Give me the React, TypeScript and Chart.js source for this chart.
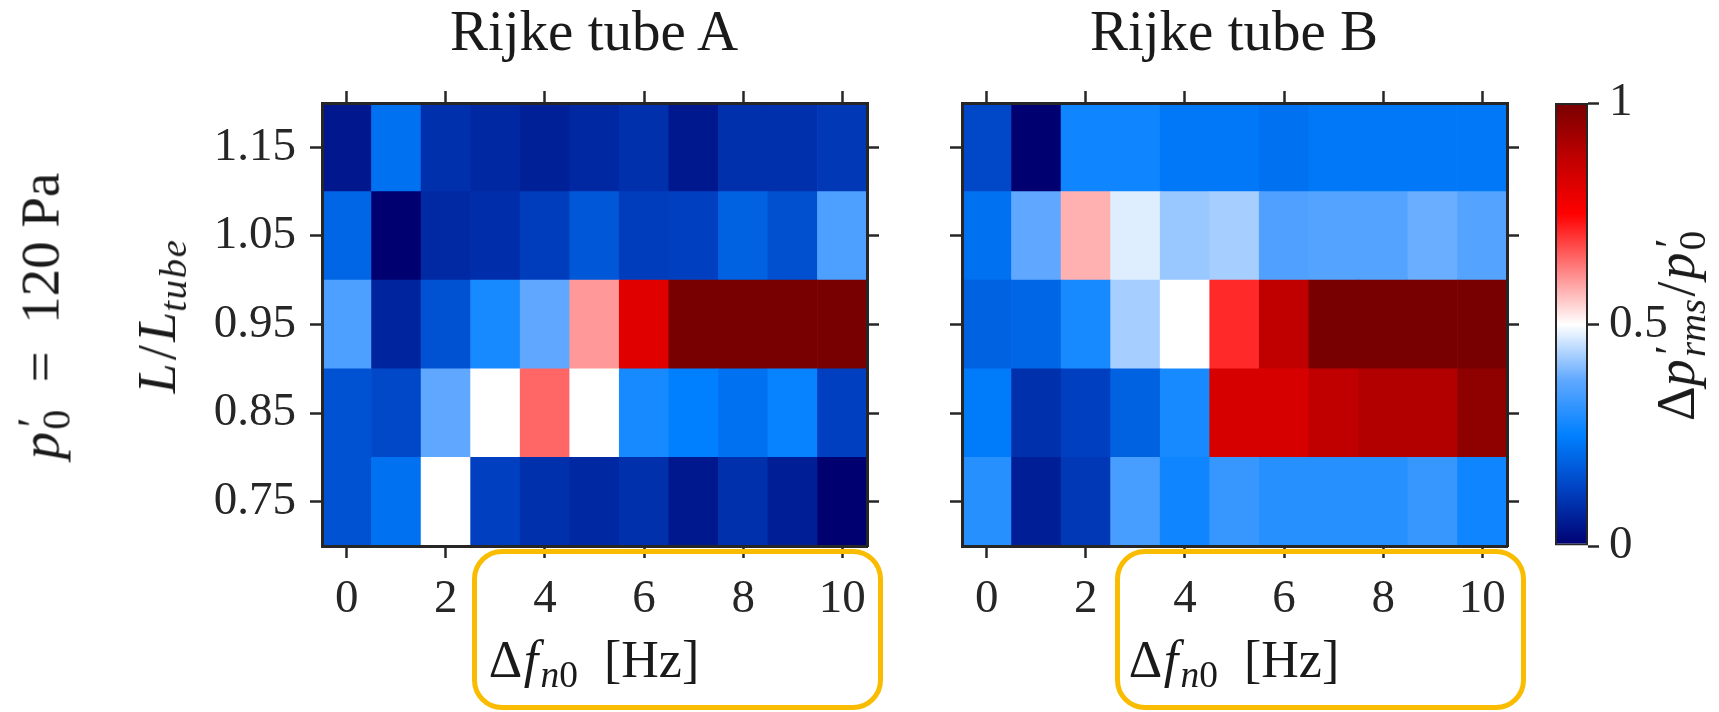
import React, { useEffect, useRef } from 'react';
import { Chart, registerables } from 'chart.js';

Chart.register(...registerables);

// ---------- data ----------
const DF_HZ = [0, 1, 2, 3, 4, 5, 6, 7, 8, 9, 10];
const L_RATIO = [0.75, 0.85, 0.95, 1.05, 1.15];
const X_TICKS = [0, 2, 4, 6, 8, 10];
const Y_TICKS = [0.75, 0.85, 0.95, 1.05, 1.15];
const CB_TICKS = [0, 0.5, 1];

// Rijke tube A : normalised amplitude, one array per L/L_tube row
const A_L075 = [0.16, 0.22, 0.50, 0.125, 0.094, 0.078, 0.094, 0.047, 0.094, 0.06, 0.0];
const A_L085 = [0.16, 0.14, 0.375, 0.50, 0.65, 0.50, 0.28, 0.25, 0.22, 0.26, 0.125];
const A_L095 = [0.35, 0.07, 0.16, 0.28, 0.375, 0.60, 0.81, 1.0, 1.0, 1.0, 1.0];
const A_L105 = [0.20, 0.0, 0.08, 0.09, 0.12, 0.17, 0.12, 0.125, 0.19, 0.156, 0.35];
const A_L115 = [0.045, 0.22, 0.094, 0.078, 0.0625, 0.078, 0.094, 0.047, 0.094, 0.094, 0.11];

// Rijke tube B
const B_L075 = [0.30, 0.06, 0.11, 0.344, 0.27, 0.323, 0.30, 0.30, 0.30, 0.323, 0.27];
const B_L085 = [0.24, 0.094, 0.125, 0.19, 0.28, 0.83, 0.83, 0.875, 0.90, 0.90, 0.96];
const B_L095 = [0.19, 0.20, 0.28, 0.43, 0.50, 0.71, 0.875, 1.0, 1.0, 1.0, 1.0];
const B_L105 = [0.22, 0.375, 0.578, 0.475, 0.42, 0.43, 0.354, 0.36, 0.36, 0.383, 0.36];
const B_L115 = [0.14, 0.0, 0.27, 0.27, 0.234, 0.234, 0.22, 0.234, 0.234, 0.234, 0.234];

const TUBE_A = [A_L075, A_L085, A_L095, A_L105, A_L115];
const TUBE_B = [B_L075, B_L085, B_L095, B_L105, B_L115];

// ---------- style ----------
const FONT = '"Liberation Serif", "DejaVu Serif", serif';
const INK = '#262626';
const GOLD = '#F9BC00';
const CMAP: [number, number, number, number][] = [
  [0.0, 0, 0, 112],
  [0.125, 0, 64, 192],
  [0.25, 0, 128, 255],
  [0.375, 96, 168, 255],
  [0.5, 255, 255, 255],
  [0.625, 255, 128, 128],
  [0.75, 255, 0, 0],
  [0.875, 192, 0, 0],
  [1.0, 120, 0, 0],
];

function cmap(v: number): string {
  const t = Math.max(0, Math.min(1, v));
  for (let i = 1; i < CMAP.length; i++) {
    const a = CMAP[i - 1];
    const b = CMAP[i];
    if (t <= b[0]) {
      const f = (t - a[0]) / (b[0] - a[0]);
      const r = Math.round(a[1] + (b[1] - a[1]) * f);
      const g = Math.round(a[2] + (b[2] - a[2]) * f);
      const bl = Math.round(a[3] + (b[3] - a[3]) * f);
      return `rgb(${r},${g},${bl})`;
    }
  }
  return 'rgb(120,0,0)';
}

const H = 712;
const TOP = 103;
const BOTTOM = 546;

const setTicks = (vals: number[]) => (axis: any) => {
  axis.ticks = vals.map((v) => ({ value: v }));
};

const tickGrid = (len: number) => ({
  display: true,
  offset: false,
  drawOnChartArea: false,
  drawTicks: true,
  tickLength: len,
  tickWidth: 2.5,
  tickColor: INK,
});
const frame = { display: true, color: INK, width: 3, z: 1 };

function heatmapConfig(rows: number[][], leftW: number, rightW: number, showY: boolean): any {
  const tickFont = { family: FONT, size: 47 };
  return {
    type: 'bar',
    data: {
      datasets: L_RATIO.map((L, r) => ({
        label: `L/Ltube = ${L}`,
        data: DF_HZ.map((f) => ({ x: f, y: [L - 0.05, L + 0.05] })),
        backgroundColor: rows[r].map(cmap),
        borderWidth: 0,
        barPercentage: 1,
        categoryPercentage: 1,
        grouped: false,
      })),
    },
    options: {
      responsive: false,
      animation: false,
      devicePixelRatio: 1,
      layout: { padding: 0 },
      plugins: { legend: { display: false }, tooltip: { enabled: false }, title: { display: false } },
      scales: {
        x: {
          type: 'linear', position: 'bottom', min: -0.5, max: 10.5, offset: false,
          afterBuildTicks: setTicks(X_TICKS),
          afterFit: (s: any) => { s.height = H - BOTTOM; },
          ticks: { font: tickFont, color: INK, padding: 13, maxRotation: 0, autoSkip: false, callback: (v: any) => String(v) },
          grid: tickGrid(12), border: frame,
        },
        x2: {
          type: 'linear', position: 'top', min: -0.5, max: 10.5, offset: false,
          afterBuildTicks: setTicks(X_TICKS),
          afterFit: (s: any) => { s.height = TOP; },
          ticks: { display: false },
          grid: tickGrid(12), border: frame,
        },
        y: {
          type: 'linear', position: 'left', min: 0.7, max: 1.2, offset: false,
          afterBuildTicks: setTicks(Y_TICKS),
          afterFit: (s: any) => { s.width = leftW; },
          ticks: { display: showY, font: tickFont, color: INK, padding: 14, autoSkip: false, callback: (v: any) => Number(v).toFixed(2) },
          grid: tickGrid(12), border: frame,
        },
        y2: {
          type: 'linear', position: 'right', min: 0.7, max: 1.2, offset: false,
          afterBuildTicks: setTicks(Y_TICKS),
          afterFit: (s: any) => { s.width = rightW; },
          ticks: { display: false },
          grid: tickGrid(12), border: frame,
        },
      },
    },
  };
}

function colorbarConfig(): any {
  return {
    type: 'bar',
    data: {
      labels: ['cb'],
      datasets: [{
        label: 'colorbar',
        data: [[CB_TICKS[0], CB_TICKS[CB_TICKS.length - 1]]],
        backgroundColor: (ctx: any) => {
          const area = ctx.chart.chartArea;
          if (!area) return INK;
          const g = ctx.chart.ctx.createLinearGradient(0, area.bottom, 0, area.top);
          CMAP.forEach((s) => g.addColorStop(s[0], `rgb(${s[1]},${s[2]},${s[3]})`));
          return g;
        },
        borderColor: INK,
        borderWidth: 2,
        borderSkipped: false,
        inflateAmount: 0,
        barPercentage: 1,
        categoryPercentage: 1,
      }],
    },
    options: {
      responsive: false,
      animation: false,
      devicePixelRatio: 1,
      layout: { padding: { left: 25, top: TOP, bottom: H - BOTTOM, right: 0 } },
      plugins: { legend: { display: false }, tooltip: { enabled: false } },
      scales: {
        x: { display: false },
        y: {
          type: 'linear', position: 'right', min: 0, max: 1,
          afterBuildTicks: setTicks(CB_TICKS),
          afterFit: (s: any) => { s.width = 131; },
          ticks: { font: { family: FONT, size: 47 }, color: INK, padding: 10, callback: (v: any) => String(v) },
          grid: tickGrid(11),
          border: { display: false },
        },
      },
    },
  };
}

function ChartCanvas({ config, left, width }: { config: () => any; left: number; width: number }) {
  const ref = useRef<HTMLCanvasElement | null>(null);
  useEffect(() => {
    if (!ref.current) return;
    const chart = new Chart(ref.current, config());
    return () => chart.destroy();
  }, []);
  return (
    <canvas
      ref={ref}
      width={width}
      height={H}
      style={{ position: 'absolute', left, top: 0, width, height: H, display: 'block' }}
    />
  );
}

// ---------- math-like text helpers ----------
const sub: React.CSSProperties = { fontSize: '0.72em', verticalAlign: '-0.28em', lineHeight: 0 };

function PrimeSub({ s, italic }: { s: string; italic?: boolean }) {
  return (
    <span style={{ position: 'relative', marginLeft: '0.04em' }}>
      <span style={{ position: 'absolute', left: '0.06em', top: '0.05em', fontSize: '0.8em', lineHeight: 1 }}>′</span>
      <span style={{ ...sub, fontStyle: italic ? 'italic' : 'normal' }}>{s}</span>
    </span>
  );
}

function Label({ x, y, size, rotate, children }: { x: number; y: number; size: number; rotate?: boolean; children: React.ReactNode }) {
  return (
    <div
      style={{
        position: 'absolute',
        left: x,
        top: y,
        transform: `translate(-50%, -50%)${rotate ? ' rotate(-90deg)' : ''}`,
        fontFamily: FONT,
        fontSize: size,
        lineHeight: 1,
        color: '#1a1a1a',
        whiteSpace: 'nowrap',
      }}
    >
      {children}
    </div>
  );
}

function XLabel({ cx }: { cx: number }) {
  return (
    <Label x={cx} y={660} size={52}>
      Δ<i style={{ marginLeft: '0.03em' }}>f</i>
      <span style={{ ...sub, marginLeft: '0.06em' }}><i>n</i>0</span>
      {'\u2005\u2005'}[Hz]
    </Label>
  );
}

function GoldBox({ left, right }: { left: number; right: number }) {
  return (
    <div
      style={{
        position: 'absolute',
        left,
        top: 549,
        width: right - left,
        height: 161,
        boxSizing: 'border-box',
        border: `5px solid ${GOLD}`,
        borderRadius: 30,
      }}
    />
  );
}

export default function App() {
  useEffect(() => {
    document.body.style.margin = '0';
  }, []);
  return (
    <div style={{ position: 'absolute', left: 0, top: 0, width: 1719, height: H, background: '#fff', overflow: 'hidden' }}>
      <ChartCanvas config={() => heatmapConfig(TUBE_A, 322, 23, true)} left={0} width={890} />
      <ChartCanvas config={() => heatmapConfig(TUBE_B, 62, 20, false)} left={900} width={627} />
      <ChartCanvas config={colorbarConfig} left={1530} width={189} />

      <Label x={594} y={30} size={57}>Rijke tube A</Label>
      <Label x={1234} y={30} size={57}>Rijke tube B</Label>

      <Label x={40} y={316} size={55} rotate>
        <i>p</i><PrimeSub s="0" />{'\u2005\u2005=\u2005\u2005'}120 Pa
      </Label>
      <Label x={157} y={316} size={54} rotate>
        <i>L</i><span style={{ margin: '0 0.06em' }}>/</span><i>L</i>
        <span style={{ ...sub, fontStyle: 'italic', letterSpacing: '0.04em' }}>tube</span>
      </Label>
      <Label x={1676} y={326} size={54} rotate>
        Δ<i>p</i><PrimeSub s="rms" italic /><span style={{ margin: '0 0.04em' }}>/</span><i>p</i><PrimeSub s="0" />
      </Label>

      <XLabel cx={594} />
      <XLabel cx={1234} />
      <GoldBox left={472} right={883} />
      <GoldBox left={1115} right={1526} />
    </div>
  );
}
